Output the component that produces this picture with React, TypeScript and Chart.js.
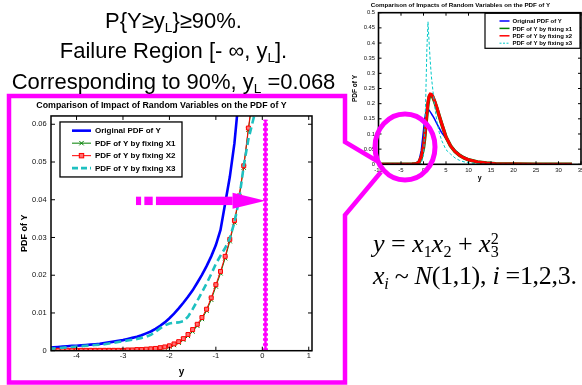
import React, { useEffect, useRef } from "react";
import { Chart, registerables } from "chart.js";

Chart.register(...registerables);

const SANS = 'Arial, "Liberation Sans", Helvetica, sans-serif';
const SERIF = '"Times New Roman", "Liberation Serif", serif';
const MAGENTA = "#ff00ff";

// ---------- main (zoomed) chart ----------
const MAIN_TITLE = "Comparison of Impact of Random Variables on the PDF of Y";
const MAIN_LEGEND = ["Original PDF of Y", "PDF of Y by fixing X1", "PDF of Y by fixing X2", "PDF of Y by fixing X3"];
const MAIN_X = [-4.6, -4.5, -4.4, -4.3, -4.2, -4.1, -4.0, -3.9, -3.8, -3.7, -3.6, -3.5, -3.4, -3.3, -3.2, -3.1, -3.0, -2.9, -2.8, -2.7, -2.6, -2.5, -2.4, -2.3, -2.2, -2.1, -2.0, -1.9, -1.8, -1.7, -1.6, -1.5, -1.4, -1.3, -1.2, -1.1, -1.0, -0.9, -0.8, -0.7, -0.6, -0.5, -0.4, -0.3, -0.2, -0.1];
const MAIN_ORIGINAL = [0.0008, 0.0009, 0.0010, 0.0011, 0.0012, 0.0013, 0.0013, 0.0014, 0.0015, 0.0016, 0.0017, 0.0018, 0.0020, 0.0022, 0.0024, 0.0026, 0.0028, 0.0031, 0.0034, 0.0037, 0.0041, 0.0046, 0.0051, 0.0058, 0.0066, 0.0075, 0.0086, 0.0098, 0.0112, 0.0127, 0.0143, 0.0160, 0.0180, 0.0201, 0.0224, 0.0250, 0.0280, 0.0320, 0.0390, 0.0460, 0.0550, 0.0680, null, null, null, null];
const MAIN_FIX_X1 = [0.0001, 0.0001, 0.0001, 0.0001, 0.0001, 0.0001, 0.0001, 0.0001, 0.0001, 0.0001, 0.0001, 0.0001, 0.0001, 0.0001, 0.0001, 0.0001, 0.0001, 0.0002, 0.0002, 0.0002, 0.0003, 0.0003, 0.0004, 0.0005, 0.0006, 0.0008, 0.0011, 0.0015, 0.0021, 0.0029, 0.0039, 0.0051, 0.0066, 0.0084, 0.0106, 0.0135, 0.0170, 0.0205, 0.0245, 0.0290, 0.0340, 0.0405, 0.0485, 0.0585, 0.0675, null];
const MAIN_FIX_X2 = [0.0001, 0.0001, 0.0001, 0.0001, 0.0001, 0.0001, 0.0001, 0.0001, 0.0001, 0.0001, 0.0001, 0.0001, 0.0001, 0.0001, 0.0001, 0.0001, 0.0001, 0.0002, 0.0002, 0.0003, 0.0003, 0.0004, 0.0005, 0.0006, 0.0008, 0.0010, 0.0013, 0.0018, 0.0024, 0.0032, 0.0043, 0.0056, 0.0070, 0.0088, 0.0110, 0.0140, 0.0175, 0.0210, 0.0250, 0.0295, 0.0345, 0.0410, 0.0490, 0.0590, 0.0680, null];
const MAIN_FIX_X3 = [0.0005, 0.0006, 0.0007, 0.0008, 0.0009, 0.0010, 0.0011, 0.0012, 0.0013, 0.0014, 0.0015, 0.0016, 0.0017, 0.0019, 0.0021, 0.0023, 0.0025, 0.0027, 0.0029, 0.0031, 0.0034, 0.0037, 0.0042, 0.0050, 0.0059, 0.0067, 0.0072, 0.0074, 0.0075, 0.0078, 0.0090, 0.0110, 0.0132, 0.0155, 0.0178, 0.0203, 0.0230, 0.0252, 0.0272, 0.0298, 0.0340, 0.0400, 0.0490, 0.0560, 0.0610, 0.0660];
const MAIN_X_TICKS = [-4, -3, -2, -1, 0, 1];
const MAIN_Y_TICKS = [0, 0.01, 0.02, 0.03, 0.04, 0.05, 0.06];
const Y_L = 0.068;
const Y_L_TOP = 0.0612;
const ARROW_Y = 0.0397;
const ARROW_SHAFT = [[-2.72, -2.61], [-2.54, -2.36], [-2.29, -0.64]];
const ARROW_HEAD_FROM = -0.64;

// ---------- small (overview) chart ----------
const SMALL_TITLE = "Comparison of Impacts of Random Variables on the PDF of Y";
const SMALL_LEGEND = ["Original PDF of Y", "PDF of Y by fixing x1", "PDF of Y by fixing x2", "PDF of Y by fixing x3"];
const SMALL_X = [-10, -8, -6, -5, -4, -3, -2.5, -2, -1.5, -1, -0.5, 0, 0.25, 0.5, 0.75, 1, 1.25, 1.5, 1.75, 2, 2.5, 3, 3.5, 4, 5, 6, 7, 8, 9, 10, 12, 14, 16, 18, 20, 25, 30, 33];
const SMALL_ORIGINAL = [0, 0, 0.0002, 0.0004, 0.0007, 0.0012, 0.0018, 0.003, 0.005, 0.012, 0.045, 0.112, 0.148, 0.17, 0.18, 0.181, 0.178, 0.173, 0.167, 0.161, 0.148, 0.133, 0.119, 0.105, 0.085, 0.064, 0.046, 0.033, 0.024, 0.017, 0.009, 0.005, 0.0025, 0.0012, 0.0006, 0.0002, 0.0001, 0];
const SMALL_FIX_X1 = [0, 0, 0, 0.0001, 0.0002, 0.0004, 0.0007, 0.0012, 0.0025, 0.007, 0.022, 0.055, 0.085, 0.125, 0.165, 0.2, 0.222, 0.229, 0.229, 0.224, 0.206, 0.184, 0.159, 0.135, 0.09, 0.061, 0.042, 0.03, 0.021, 0.015, 0.008, 0.004, 0.002, 0.001, 0.0006, 0.0003, 0.0002, 0.0001];
const SMALL_FIX_X2 = [0, 0, 0, 0.0001, 0.0002, 0.0004, 0.0008, 0.0014, 0.003, 0.008, 0.025, 0.06, 0.09, 0.13, 0.17, 0.205, 0.225, 0.232, 0.231, 0.226, 0.208, 0.186, 0.16, 0.136, 0.09, 0.061, 0.042, 0.03, 0.021, 0.015, 0.008, 0.004, 0.002, 0.001, 0.0006, 0.0003, 0.0002, 0.0001];
const SMALL_FIX_X3 = [0, 0, 0, 0, 0, 0, 0, 0, 0, 0, 0.002, 0.03, 0.1, 0.22, 0.38, 0.47, 0.40, 0.34, 0.29, 0.255, 0.19, 0.14, 0.105, 0.08, 0.048, 0.034, 0.021, 0.013, 0.008, 0.005, 0.0018, 0.0006, 0.0002, 0.0001, 0, 0, 0, 0];
const SMALL_X_TICKS = [-10, -5, 0, 5, 10, 15, 20, 25, 30, 35];
const SMALL_Y_TICKS = [0, 0.05, 0.1, 0.15, 0.2, 0.25, 0.3, 0.35, 0.4, 0.45, 0.5];

const pts = (xs: number[], ys: (number | null)[]) => xs.map((x, i) => ({ x, y: ys[i] }));
const fmt = (v: number) => (v === 0 ? "0" : String(+Number(v).toFixed(2)));

function drawMarker(ctx: CanvasRenderingContext2D, style: string, x: number, y: number, r: number, stroke: string, fill: string) {
  ctx.save();
  ctx.setLineDash([]);
  ctx.lineWidth = 1;
  ctx.strokeStyle = stroke;
  if (style === "crossRot") {
    ctx.beginPath();
    ctx.moveTo(x - r, y - r);
    ctx.lineTo(x + r, y + r);
    ctx.moveTo(x + r, y - r);
    ctx.lineTo(x - r, y + r);
    ctx.stroke();
  } else if (style === "rect") {
    ctx.fillStyle = fill;
    ctx.fillRect(x - r, y - r, 2 * r, 2 * r);
    ctx.strokeRect(x - r, y - r, 2 * r, 2 * r);
  }
  ctx.restore();
}

function drawBox(chart: any, tickLen: number, lw: number) {
  const { ctx, chartArea: a, scales } = chart;
  ctx.save();
  ctx.strokeStyle = "#000";
  ctx.lineWidth = lw;
  ctx.strokeRect(a.left, a.top, a.right - a.left, a.bottom - a.top);
  ctx.lineWidth = 1;
  ctx.beginPath();
  scales.x.ticks.forEach((t: any) => {
    const px = scales.x.getPixelForValue(t.value);
    ctx.moveTo(px, a.bottom);
    ctx.lineTo(px, a.bottom - tickLen);
    ctx.moveTo(px, a.top);
    ctx.lineTo(px, a.top + tickLen);
  });
  scales.y.ticks.forEach((t: any) => {
    const py = scales.y.getPixelForValue(t.value);
    ctx.moveTo(a.left, py);
    ctx.lineTo(a.left + tickLen, py);
    ctx.moveTo(a.right, py);
    ctx.lineTo(a.right - tickLen, py);
  });
  ctx.stroke();
  ctx.restore();
}

function drawLegend(chart: any, cfg: any) {
  const { ctx, chartArea: a } = chart;
  const ds = chart.data.datasets.slice(0, 4);
  const x0 = a.left + cfg.dx;
  const y0 = a.top + cfg.dy;
  ctx.save();
  ctx.fillStyle = "#fff";
  ctx.fillRect(x0, y0, cfg.w, cfg.h);
  ctx.strokeStyle = "#000";
  ctx.lineWidth = cfg.boxLw;
  ctx.strokeRect(x0, y0, cfg.w, cfg.h);
  ds.forEach((d: any, i: number) => {
    const cy = y0 + cfg.first + i * cfg.step;
    ctx.strokeStyle = d.borderColor;
    ctx.lineWidth = Math.min(d.borderWidth, cfg.maxLw);
    ctx.setLineDash(d.borderDash ? cfg.dash : []);
    ctx.beginPath();
    ctx.moveTo(x0 + cfg.l1, cy);
    ctx.lineTo(x0 + cfg.l2, cy);
    ctx.stroke();
    ctx.setLineDash([]);
    if (d.pointRadius > 0 && d.pointStyle) {
      drawMarker(ctx, d.pointStyle, x0 + (cfg.l1 + cfg.l2) / 2, cy, cfg.mr, d.pointBorderColor, d.pointBackgroundColor || "#fff");
    }
    ctx.fillStyle = "#000";
    ctx.font = cfg.font;
    ctx.textBaseline = "middle";
    ctx.textAlign = "left";
    ctx.fillText(d.label, x0 + cfg.tx, cy + 0.5);
  });
  ctx.restore();
}

function scaleCfg(o: any) {
  return {
    type: "linear",
    min: o.min,
    max: o.max,
    grid: { display: false, drawTicks: false },
    border: { display: false },
    ticks: {
      padding: o.tickPad,
      autoSkip: false,
      maxRotation: 0,
      color: "#111",
      font: { family: SANS, size: o.tickSize },
      callback: o.plain ? (v: any) => String(v) : (v: any) => fmt(Number(v)),
    },
    title: {
      display: true,
      text: o.title,
      color: "#000",
      font: { family: SANS, size: o.titleSize, weight: "bold" },
      padding: o.titlePad,
    },
    afterBuildTicks: (s: any) => {
      s.ticks = o.ticks.map((v: number) => ({ value: v }));
    },
    afterFit: (s: any) => {
      if (o.width !== undefined) s.width = o.width;
      if (o.height !== undefined) s.height = o.height;
      s.paddingLeft = 0;
      s.paddingRight = 0;
      s.paddingTop = 0;
      s.paddingBottom = 0;
    },
  };
}

function mainConfig(): any {
  return {
    type: "line",
    data: {
      datasets: [
        { label: MAIN_LEGEND[0], data: pts(MAIN_X, MAIN_ORIGINAL), borderColor: "#0000ff", borderWidth: 2.6, pointRadius: 0, order: 4 },
        { label: MAIN_LEGEND[1], data: pts(MAIN_X, MAIN_FIX_X1), borderColor: "#008000", borderWidth: 1, pointStyle: "crossRot", pointRadius: 3, pointBorderColor: "#008000", pointBorderWidth: 1, order: 3 },
        { label: MAIN_LEGEND[2], data: pts(MAIN_X, MAIN_FIX_X2), borderColor: "#ff0000", borderWidth: 1, pointStyle: "rect", pointRadius: 2.8, pointBackgroundColor: "#ff7070", pointBorderColor: "#ff0000", pointBorderWidth: 1, order: 2 },
        { label: MAIN_LEGEND[3], data: pts(MAIN_X, MAIN_FIX_X3), borderColor: "#1ec0c0", borderWidth: 2.6, borderDash: [7, 4], pointRadius: 0, order: 1 },
        { label: "yL", data: [{ x: Y_L, y: 0 }, { x: Y_L, y: Y_L_TOP }], borderColor: MAGENTA, borderWidth: 2.5, pointRadius: 0, order: 0 },
        { label: "yL dashes", data: [{ x: Y_L, y: 0 }, { x: Y_L, y: Y_L_TOP }], borderColor: MAGENTA, borderWidth: 5, borderDash: [2.5, 2.5], pointRadius: 0, order: 0 },
      ],
    },
    options: {
      animation: false,
      responsive: false,
      devicePixelRatio: 1,
      events: [],
      layout: { padding: { left: 0, right: 30, top: 0, bottom: 0 } },
      elements: { line: { tension: 0 } },
      plugins: {
        legend: { display: false },
        tooltip: { enabled: false },
        title: {
          display: true,
          text: MAIN_TITLE,
          color: "#000",
          font: { family: SANS, size: 8.8, weight: "bold" },
          padding: { top: 1, bottom: 5.4 },
        },
      },
      scales: {
        x: scaleCfg({ min: -4.55, max: 1.07, ticks: MAIN_X_TICKS, tickPad: 1.2, tickSize: 7.5, title: "y", titleSize: 10, titlePad: { top: 0, bottom: 1 }, height: 28.3, plain: true }),
        y: scaleCfg({ min: 0, max: 0.0622, ticks: MAIN_Y_TICKS, tickPad: 4.3, tickSize: 7.5, title: "PDF of Y", titleSize: 9, titlePad: { top: 8.6, bottom: 0 }, width: 40 }),
      },
    },
    plugins: [
      {
        id: "mainDecor",
        afterDatasetsDraw(chart: any) {
          const { ctx, scales } = chart;
          const sx = scales.x, sy = scales.y;
          const py = sy.getPixelForValue(ARROW_Y);
          ctx.save();
          ctx.fillStyle = MAGENTA;
          ARROW_SHAFT.forEach(([a, b]) => {
            const xa = sx.getPixelForValue(a), xb = sx.getPixelForValue(b);
            ctx.fillRect(xa, py - 4.2, xb - xa, 8.4);
          });
          const hx = sx.getPixelForValue(ARROW_HEAD_FROM);
          const tx = sx.getPixelForValue(Y_L);
          ctx.beginPath();
          ctx.moveTo(hx, py - 8);
          ctx.lineTo(tx, py);
          ctx.lineTo(hx, py + 8);
          ctx.closePath();
          ctx.fill();
          ctx.restore();
          drawBox(chart, 4, 1.5);
        },
        afterDraw(chart: any) {
          drawLegend(chart, { dx: 9, dy: 6, w: 122, h: 55, boxLw: 1.3, first: 8.7, step: 12.5, l1: 12, l2: 31, tx: 35, mr: 2.2, maxLw: 3, dash: [6, 3], font: `bold 8px ${SANS}` });
        },
      },
    ],
  };
}

function smallConfig(): any {
  return {
    type: "line",
    data: {
      datasets: [
        { label: SMALL_LEGEND[0], data: pts(SMALL_X, SMALL_ORIGINAL), borderColor: "#0000ff", borderWidth: 1.5, pointRadius: 0, order: 4 },
        { label: SMALL_LEGEND[1], data: pts(SMALL_X, SMALL_FIX_X1), borderColor: "#008000", borderWidth: 3.5, pointRadius: 0, order: 3 },
        { label: SMALL_LEGEND[2], data: pts(SMALL_X, SMALL_FIX_X2), borderColor: "#ff0000", borderWidth: 3, pointRadius: 0, order: 2 },
        { label: SMALL_LEGEND[3], data: pts(SMALL_X, SMALL_FIX_X3), borderColor: "#00c8c8", borderWidth: 1, borderDash: [3, 2], pointRadius: 0, order: 1 },
      ],
    },
    options: {
      animation: false,
      responsive: false,
      devicePixelRatio: 1,
      events: [],
      layout: { padding: { left: 0, right: 1, top: 0, bottom: 0 } },
      elements: { line: { tension: 0 } },
      plugins: {
        legend: { display: false },
        tooltip: { enabled: false },
        title: {
          display: true,
          text: SMALL_TITLE,
          color: "#000",
          font: { family: SANS, size: 6.2, weight: "bold" },
          padding: { top: 1.2, bottom: 4.06 },
        },
      },
      scales: {
        x: scaleCfg({ min: -10, max: 35, ticks: SMALL_X_TICKS, tickPad: 2.4, tickSize: 6, title: "y", titleSize: 7, titlePad: { top: 0, bottom: 7.5 }, height: 25.7, plain: true }),
        y: scaleCfg({ min: 0, max: 0.5, ticks: SMALL_Y_TICKS, tickPad: 3.5, tickSize: 5.8, title: "PDF of Y", titleSize: 6.5, titlePad: { top: 11, bottom: 0 }, width: 38.5 }),
      },
    },
    plugins: [
      {
        id: "smallDecor",
        afterDatasetsDraw(chart: any) {
          drawBox(chart, 3, 1.6);
        },
        afterDraw(chart: any) {
          drawLegend(chart, { dx: 106.5, dy: 0.6, w: 95, h: 35, boxLw: 1.2, first: 7.7, step: 7.4, l1: 14.5, l2: 24.5, tx: 27.5, mr: 1.5, maxLw: 1.5, dash: [2, 1.5], font: `bold 6px ${SANS}` });
        },
      },
    ],
  };
}

const sub: React.CSSProperties = { fontSize: "0.62em", position: "relative", top: "0.3em" };
const fsub: React.CSSProperties = { fontSize: "0.62em", position: "relative", top: "5px", fontStyle: "normal" };

export default function App() {
  const mainRef = useRef<HTMLCanvasElement>(null);
  const smallRef = useRef<HTMLCanvasElement>(null);

  useEffect(() => {
    const c1 = new Chart(mainRef.current as HTMLCanvasElement, mainConfig());
    const c2 = new Chart(smallRef.current as HTMLCanvasElement, smallConfig());
    return () => {
      c1.destroy();
      c2.destroy();
    };
  }, []);

  return (
    <div style={{ position: "absolute", left: 0, top: 0, width: 582, height: 385, background: "#fff", overflow: "hidden" }}>
      <canvas ref={smallRef} width={242} height={190} style={{ position: "absolute", left: 340, top: 0, width: 242, height: 190 }} />
      <canvas ref={mainRef} width={331} height={280} style={{ position: "absolute", left: 11, top: 99, width: 331, height: 280 }} />

      <svg width={582} height={385} style={{ position: "absolute", left: 0, top: 0, pointerEvents: "none" }}>
        <polyline
          points="377,161 345,142 345,96 9,96 9,382.5 345,382.5 345,215 381,172"
          fill="none"
          stroke={MAGENTA}
          strokeWidth={4.5}
          strokeLinejoin="miter"
        />
        <ellipse cx={405} cy={147} rx={30} ry={33} fill="none" stroke={MAGENTA} strokeWidth={5} />
      </svg>

      <div
        style={{
          position: "absolute",
          left: 0,
          top: 6.6,
          width: 347,
          textAlign: "center",
          fontFamily: SANS,
          fontSize: 22,
          lineHeight: "27.5px",
          color: "#000",
          whiteSpace: "nowrap",
        }}
      >
        <div>
          P{"{"}Y≥y<span style={sub}>L</span>{"}"}≥90%.
        </div>
        <div>
          Failure Region [- ∞, y<span style={sub}>L</span>].
        </div>
        <div>
          Corresponding to 90%, y<span style={sub}>L</span> =0.068
        </div>
      </div>

      <div style={{ position: "absolute", left: 373, top: 231.2, fontFamily: SERIF, fontSize: 26, lineHeight: "26px", color: "#000", whiteSpace: "nowrap" }}>
        <i>y</i> = <i>x</i>
        <span style={fsub}>1</span>
        <i>x</i>
        <span style={fsub}>2</span> + <i>x</i>
        <span style={{ position: "relative", display: "inline-block" }}>
          <span style={fsub}>3</span>
          <span style={{ position: "absolute", left: 0, top: -5.5, fontSize: "0.62em" }}>2</span>
        </span>
      </div>
      <div style={{ position: "absolute", left: 373, top: 263.2, fontFamily: SERIF, fontSize: 26, lineHeight: "26px", color: "#000", whiteSpace: "nowrap", letterSpacing: "-0.3px" }}>
        <i>x</i>
        <span style={{ ...fsub, fontStyle: "italic" }}>i</span> ~ <i>N</i>(1,1), <i>i</i> =1,2,3.
      </div>
    </div>
  );
}
